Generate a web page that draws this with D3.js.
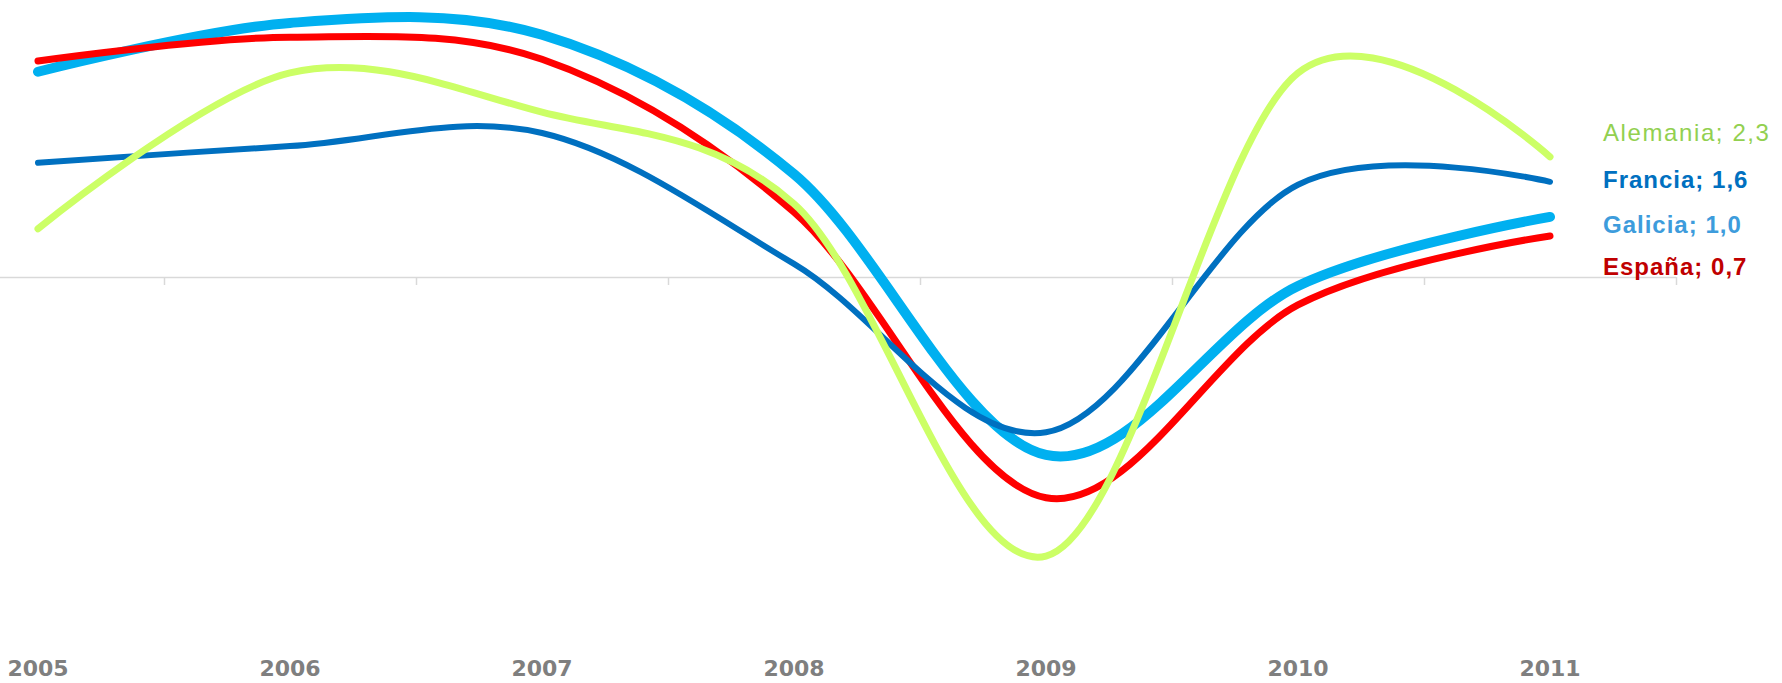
<!DOCTYPE html>
<html>
<head>
<meta charset="utf-8">
<script src="https://cdn.jsdelivr.net/npm/d3@7"></script>
<style>
  html, body { margin: 0; padding: 0; background: #fff; }
  svg { display: block; }
</style>
</head>
<body>
<div id="chart"></div>
<script>
const width = 1782;
const height = 683;

// data (GDP growth, %)
const years = ['2005', '2006', '2007', '2008', '2009', '2010', '2011'];
const alemania = [0.81, 3.43, 2.77, 1.23, -4.69, 3.43, 2.02];
const francia = [1.92, 2.20, 2.42, 0.22, -2.61, 1.55, 1.60];
const galicia = [3.45, 4.27, 4.07, 1.73, -2.99, -0.15, 1.01];
const espana = [3.63, 4.03, 3.66, 1.09, -3.71, -0.47, 0.69];

const seriesNames = ['Galicia', 'España', 'Francia', 'Alemania'];
const endLabels = ['Galicia; 1,0', 'España; 0,7', 'Francia; 1,6', 'Alemania; 2,3'];

const series = [
  { name: 'Galicia', values: galicia, color: '#00b0f0', label: '#3d9cdc', w: 10, bold: true, ly: 225 },
  { name: 'España', values: espana, color: '#ff0000', label: '#c00000', w: 7, bold: true, ly: 267 },
  { name: 'Francia', values: francia, color: '#0070c0', label: '#0070c0', w: 6, bold: true, ly: 180 },
  { name: 'Alemania', values: alemania, color: '#ccff66', label: '#92d050', w: 7, bold: false, ly: 133 },
];

const svg = d3.select('#chart').append('svg')
  .attr('width', width)
  .attr('height', height);

// category axis: each year gets a band, ticks sit between bands
const x = d3.scaleBand()
  .domain(years)
  .range([-88, 1676])
  .paddingInner(0)
  .paddingOuter(0);
const xc = d => x(d) + x.bandwidth() / 2;

const y = d3.scaleLinear()
  .domain([-6, 4.5])
  .range([634, 9.25]);

// zero axis
const axisG = svg.append('g')
  .attr('transform', `translate(0,${y(0)})`);

axisG.append('line')
  .attr('x1', 0)
  .attr('x2', x.range()[1])
  .attr('y1', 0.5)
  .attr('y2', 0.5)
  .style('stroke', '#d9d9d9')
  .style('stroke-width', 1.5);

const tickEdges = years.map(d => x(d) + x.bandwidth()).filter(v => v > 0);
axisG.selectAll('line.tick')
  .data(tickEdges)
  .enter().append('line')
  .attr('class', 'tick')
  .attr('x1', d => Math.round(d) + 0.5)
  .attr('x2', d => Math.round(d) + 0.5)
  .attr('y1', 0)
  .attr('y2', 8)
  .style('stroke', '#d9d9d9')
  .style('stroke-width', 1.5);

// year labels at the bottom
svg.append('g')
  .selectAll('text')
  .data(years)
  .enter().append('text')
  .attr('x', d => xc(d))
  .attr('y', 676)
  .attr('text-anchor', 'middle')
  .style('font-family', 'Verdana, "DejaVu Sans", sans-serif')
  .style('font-weight', 'bold')
  .style('font-size', '22px')
  .style('fill', '#7f7f7f')
  .text(d => d);

// smooth lines
const line = d3.line()
  .x((d, i) => xc(years[i]))
  .y(d => y(d))
  .curve(d3.curveCardinal.tension(0));

svg.append('g')
  .selectAll('path')
  .data(series)
  .enter().append('path')
  .attr('d', d => line(d.values))
  .style('fill', 'none')
  .style('stroke', d => d.color)
  .style('stroke-width', d => d.w)
  .style('stroke-linecap', 'round')
  .style('stroke-linejoin', 'round');

// end labels
svg.append('g')
  .selectAll('text')
  .data(series)
  .enter().append('text')
  .attr('x', 1603)
  .attr('y', d => d.ly)
  .attr('dy', '0.35em')
  .style('font-family', '"Liberation Sans", Arial, sans-serif')
  .style('font-size', '24px')
  .style('letter-spacing', d => (d.bold ? '1px' : '1.6px'))
  .style('font-weight', d => (d.bold ? 'bold' : 'normal'))
  .style('fill', d => d.label)
  .text(d => endLabels[seriesNames.indexOf(d.name)]);
</script>
</body>
</html>
